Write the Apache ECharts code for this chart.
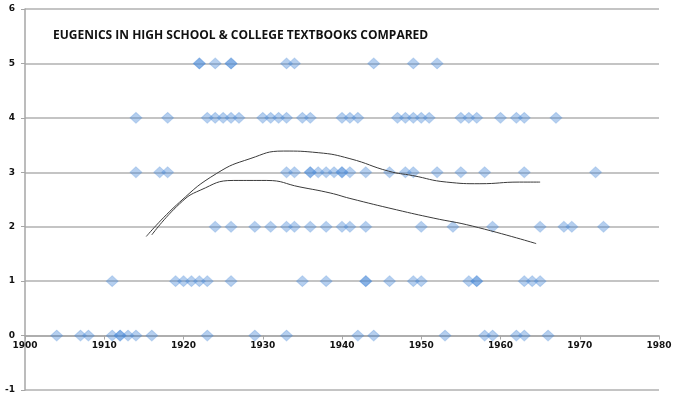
<!DOCTYPE html>
<html>
<head>
    <meta charset="utf-8">
    <title>Eugenics in textbooks</title>
    <script src="https://cdn.jsdelivr.net/npm/echarts@6/dist/echarts.min.js"></script>
    <style>
        html, body { margin: 0; padding: 0; background: #fff; }
        #chart1 { width: 689px; height: 398px; }
    </style>
</head>
<body>
<div id="chart1"></div>
<script type="text/javascript">
    // years per level (repeated years = overlapping, darker points)
    var level5 = [1922, 1922, 1924, 1926, 1926, 1933, 1934, 1944, 1949, 1952];
    var level4 = [1914, 1918, 1923, 1924, 1925, 1926, 1927, 1930, 1931, 1932, 1933, 1935, 1936, 1940, 1941,
        1942, 1947, 1948, 1949, 1950, 1951, 1955, 1956, 1957, 1960, 1962, 1963, 1967];
    var level3 = [1914, 1917, 1918, 1933, 1934, 1936, 1936, 1937, 1938, 1939, 1940, 1940, 1941, 1943, 1946,
        1948, 1949, 1952, 1955, 1958, 1963, 1972];
    var level2 = [1924, 1926, 1929, 1931, 1933, 1934, 1936, 1938, 1940, 1941, 1943, 1950, 1954, 1959,
        1965, 1968, 1969, 1973];
    var level1 = [1911, 1919, 1920, 1921, 1922, 1923, 1926, 1935, 1938, 1943, 1943, 1946, 1949, 1950,
        1956, 1957, 1957, 1963, 1964, 1965];
    var level0 = [1904, 1907, 1908, 1911, 1912, 1912, 1913, 1914, 1916, 1923, 1929, 1933, 1942, 1944,
        1953, 1958, 1959, 1962, 1963, 1966];

    // trend curves
    var trendAYears = [1915.3, 1919.5, 1924.2, 1928.4, 1932.6, 1937, 1941.0, 1945.9, 1948.9, 1953.2, 1957.4, 1962.4, 1965.0];
    var trendAValues = [1.82, 2.45, 2.98, 3.25, 3.39, 3.36, 3.25, 3.02, 2.94, 2.82, 2.79, 2.82, 2.82];
    var trendBYears = [1916.0, 1919.5, 1922.1, 1926.3, 1930.5, 1934.7, 1938.5, 1941, 1946.9, 1951.5, 1956.5, 1964.5];
    var trendBValues = [1.85, 2.42, 2.67, 2.85, 2.85, 2.73, 2.62, 2.52, 2.31, 2.16, 2.01, 1.69];

    var points = [];
    [level0, level1, level2, level3, level4, level5].forEach(function (years, lv) {
        years.forEach(function (y) { points.push([y, lv]); });
    });
    function pairs(xs, ys) {
        return xs.map(function (x, i) { return [x, ys[i]]; });
    }

    var gridTop = 9, gridBottom = 8;
    // the x axis sits on the 0 line, one unit above the bottom (-1)
    var unitPx = (398 - gridTop - gridBottom) / 7;

    var myChart = echarts.init(document.getElementById('chart1'));
    myChart.setOption({
        animation: false,
        title: {
            text: 'EUGENICS IN HIGH SCHOOL & COLLEGE TEXTBOOKS COMPARED',
            left: 48,
            top: 25,
            textStyle: {
                fontFamily: 'Open Sans',
                fontSize: 12,
                fontWeight: 'bold',
                color: '#111'
            }
        },
        grid: { left: 25, right: 30, top: gridTop, bottom: gridBottom, outerBoundsMode: 'none', containLabel: false },
        xAxis: {
            type: 'value',
            min: 1900,
            max: 1980,
            interval: 10,
            position: 'bottom',
            offset: -unitPx,
            axisLine: { onZero: false, lineStyle: { color: '#a6a6a6', width: 1.5 } },
            axisTick: { show: true, length: 4, lineStyle: { color: '#a6a6a6' } },
            axisLabel: {
                color: '#111', fontSize: 9, fontWeight: 'bold', fontFamily: 'DejaVu Sans', margin: 6,
                formatter: function (v) { return String(v); }
            },
            splitLine: { show: false }
        },
        yAxis: {
            type: 'value',
            min: -1,
            max: 6,
            interval: 1,
            axisLine: { show: true, lineStyle: { color: '#a6a6a6', width: 1.5 } },
            axisTick: { show: true, length: 4, lineStyle: { color: '#a6a6a6' } },
            axisLabel: { color: '#111', fontSize: 9, fontWeight: 'bold', fontFamily: 'DejaVu Sans', margin: 10 },
            splitLine: { show: true, lineStyle: { color: '#b0b0b0', width: 1.5 } }
        },
        series: [
            {
                type: 'scatter',
                symbol: 'diamond',
                symbolSize: [12, 11],
                data: points,
                itemStyle: {
                    color: 'rgba(70,135,215,0.5)',
                    borderColor: 'rgba(70,135,215,0.3)',
                    borderWidth: 1
                },
                z: 3
            },
            {
                type: 'line',
                smooth: true,
                showSymbol: false,
                data: pairs(trendAYears, trendAValues),
                lineStyle: { color: '#3a3a3a', width: 1 },
                z: 4
            },
            {
                type: 'line',
                smooth: true,
                showSymbol: false,
                data: pairs(trendBYears, trendBValues),
                lineStyle: { color: '#3a3a3a', width: 1 },
                z: 4
            }
        ]
    });
</script>
</body>
</html>
